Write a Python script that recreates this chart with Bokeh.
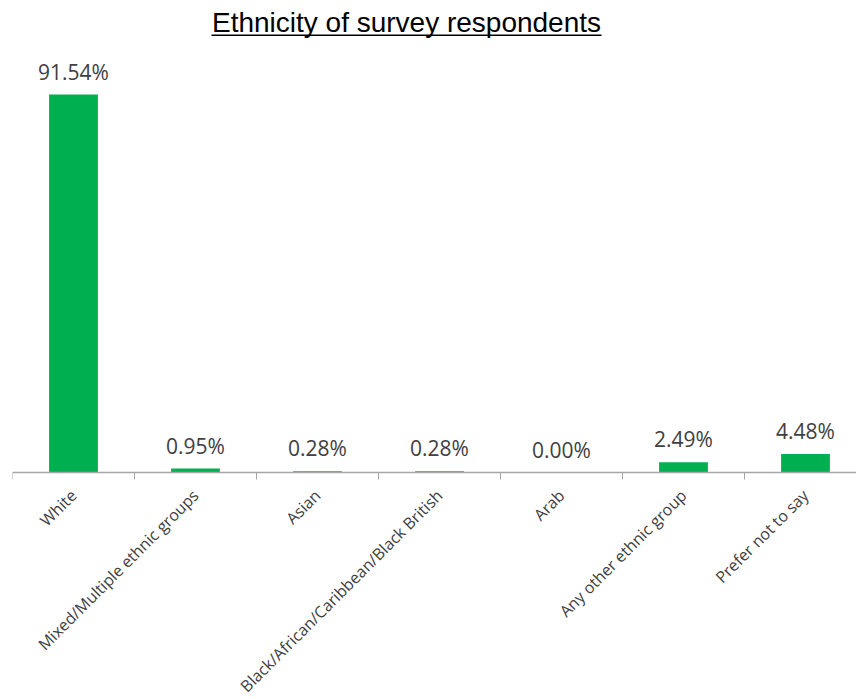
from math import pi
from bokeh.plotting import figure
from bokeh.models import (ColumnDataSource, Range1d, FixedTicker, LabelSet, Label,
                          BoxAnnotation, LinearAxis)
from bokeh.core.properties import value
from bokeh.embed import file_html
from bokeh.resources import INLINE

categories = ["White", "Mixed/Multiple ethnic groups", "Asian",
              "Black/African/Caribbean/Black British", "Arab",
              "Any other ethnic group", "Prefer not to say"]
values = [91.54, 0.95, 0.28, 0.28, 0.00, 2.49, 4.48]
value_labels = [f"{v:.2f}%" for v in values]
positions = list(range(len(categories)))
zeros = [0] * len(categories)

src = ColumnDataSource(dict(x=positions, v=values, lab=value_labels, z=zeros, cat=categories))

W, H = 856, 699
LEFT = 12
BASE = 472
PX_PER_PCT = 378 / 91.54
p = figure(width=W, height=H, output_backend="svg", toolbar_location=None,
           x_range=Range1d(-0.5, -0.5 + (W - LEFT) / 122),
           y_range=Range1d(-(H - BASE) / PX_PER_PCT, BASE / PX_PER_PCT),
           x_axis_location=None, y_axis_location=None,
           min_border_left=LEFT, min_border_right=0, min_border_top=0,
           min_border_bottom=0)
p.outline_line_color = None
p.xgrid.visible = False
p.ygrid.visible = False
p.background_fill_color = "white"
p.border_fill_color = "white"

p.vbar(x="x", top="v", width=0.4, source=src, fill_color="#00B050", line_color=None)

labels = LabelSet(x="x", y="v", text="lab", source=src, text_align="center",
                  text_baseline="bottom", y_offset=9, text_font=value("Open Sans"),
                  text_font_size="21px", text_color="#404040")
p.add_layout(labels)

# category axis line and separators at y = 0
ax = LinearAxis(fixed_location=0)
ax.ticker = FixedTicker(ticks=positions, minor_ticks=[i - 0.5 for i in range(len(categories) + 1)])
ax.major_label_overrides = {i: "" for i in positions}
ax.major_label_text_font_size = "1px"
ax.major_tick_out = 0
ax.major_tick_in = 0
ax.minor_tick_out = 7
ax.minor_tick_in = 0
ax.minor_tick_line_color = "#A6A6A6"
ax.axis_line_color = "#A6A6A6"
ax.axis_line_width = 1.5
p.add_layout(ax, "below")

# category labels below the axis line
cat_labels = LabelSet(x="x", y="z", text="cat", source=src, text_align="right",
                      text_baseline="middle", angle=pi / 4, y_offset=-20, x_offset=0,
                      text_font=value("Open Sans"), text_font_size="16px",
                      text_color="#404040")
p.add_layout(cat_labels)

title = Label(x=406 - LEFT, y=H - 22, x_units="screen", y_units="screen",
              text="Ethnicity of survey respondents", text_align="center",
              text_baseline="alphabetic", text_font="Liberation Sans",
              text_font_size="28px", text_color="#000000")
p.add_layout(title)
underline = BoxAnnotation(left=211 - LEFT, right=601 - LEFT, bottom=H - 35.5, top=H - 34,
                          left_units="screen", right_units="screen",
                          bottom_units="screen", top_units="screen",
                          fill_color="#000000", fill_alpha=1.0, line_color=None)
p.add_layout(underline)

open("out.html", "w").write(file_html(p, INLINE))
